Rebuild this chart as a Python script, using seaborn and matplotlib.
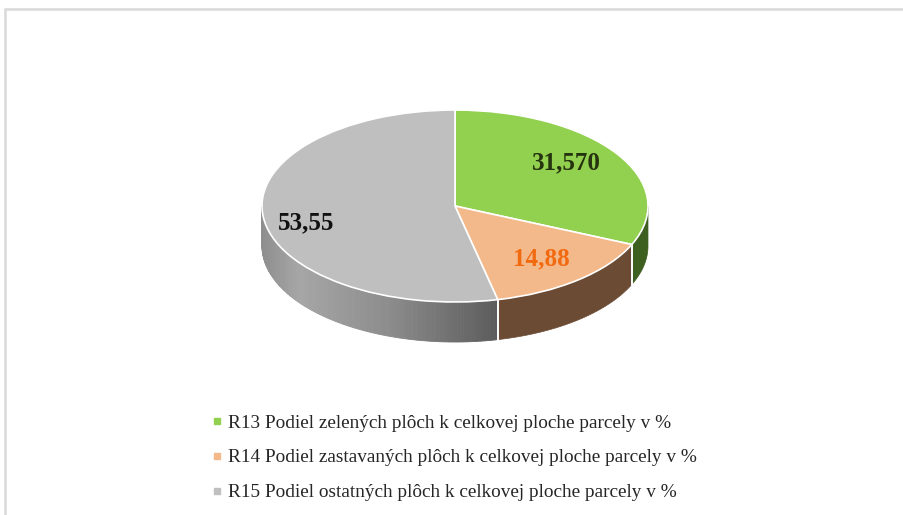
import numpy as np
import matplotlib
matplotlib.use("Agg")
import matplotlib.pyplot as plt
import seaborn as sns
from matplotlib.lines import Line2D
from matplotlib.patches import Rectangle

# ---- data ----
categories = [
    "R13 Podiel zelených plôch k celkovej ploche parcely v %",
    "R14 Podiel zastavaných plôch k celkovej ploche parcely v %",
    "R15 Podiel ostatných plôch k celkovej ploche parcely v %",
]
values = [31.57, 14.88, 53.55]
value_labels = ["31,570", "14,88", "53,55"]

# ---- style ----
top_colors = ["#92d050", "#f4b98a", "#bfbfbf"]
side_colors = ["#3d5f1f", "#6b4b34", None]  # gray side uses gradient
label_colors = ["#26330f", "#f26a10", "#111111"]
label_r = [0.73, 0.71, 0.79]
label_da = [4.7, -0.7, 6.6]
legend_colors = ["#92d050", "#f4b98a", "#bfbfbf"]

sns.set_theme(style="white")
plt.rcParams["font.family"] = ["Liberation Serif", "DejaVu Serif"]

W, H = 904, 515
fig = plt.figure(figsize=(W / 100, H / 100), dpi=100)
ax = fig.add_axes([0, 0, 1, 1])

cx, cy, rx, ry, depth_px = 455, 206, 193, 96, 40
d = depth_px / ry

wedges, _ = ax.pie(values, colors=top_colors, startangle=90, counterclock=False,
                   radius=1.0, center=(0, 0),
                   wedgeprops=dict(edgecolor="white", linewidth=1.2))
for w in wedges:
    w.set_zorder(3)

ax.set_aspect("auto")
ax.set_xlim(-cx / rx, (W - cx) / rx)
ax.set_ylim((cy - H) / ry, cy / ry)
ax.axis("off")

# gray gradient stops (by x in data units)
g_x = [-1.0, -0.803, -0.337, 0.078, 0.218, 1.0]
g_v = [0x8e, 0xa6, 0x8c, 0x68, 0x5c, 0x5c]


def wall(t1, t2, color=None, gradient=False):
    a1, a2 = max(t1, 180), min(t2, 360)
    if a2 <= a1:
        return
    if not gradient:
        t = np.radians(np.linspace(a1, a2, 100))
        xs = np.concatenate([np.cos(t), np.cos(t[::-1])])
        ys = np.concatenate([np.sin(t), np.sin(t[::-1]) - d])
        ax.fill(xs, ys, color=color, lw=0.5, ec=color, zorder=1)
    else:
        edges = np.linspace(a1, a2, 120)
        for e1, e2 in zip(edges[:-1], edges[1:]):
            t = np.radians(np.linspace(e1, e2, 4))
            xm = np.cos(np.radians((e1 + e2) / 2))
            v = np.interp(xm, g_x, g_v) / 255
            c = (v, v, v)
            xs = np.concatenate([np.cos(t), np.cos(t[::-1])])
            ys = np.concatenate([np.sin(t), np.sin(t[::-1]) - d])
            ax.fill(xs, ys, color=c, lw=0.6, ec=c, zorder=1)


for i, w in enumerate(wedges):
    t1, t2 = w.theta1 % 360, w.theta2 % 360
    if t2 <= t1:
        t2 += 360
    for s in (0, -360, 360):
        wall(t1 + s, t2 + s, side_colors[i], gradient=(side_colors[i] is None))

# white separators on the wall
for w in wedges:
    for th in (w.theta1, w.theta2):
        tt = th % 360
        if 180 < tt < 360:
            r = np.radians(tt)
            ax.plot([np.cos(r), np.cos(r)], [np.sin(r), np.sin(r) - d],
                    color="white", lw=1.2, zorder=2)

# value labels
for i, w in enumerate(wedges):
    mid = (w.theta1 + w.theta2) / 2 + label_da[i]
    r = np.radians(mid)
    ax.text(label_r[i] * np.cos(r), label_r[i] * np.sin(r), value_labels[i],
            ha="center", va="center", fontsize=18, fontweight="bold",
            color=label_colors[i], zorder=5)

# legend
handles = [Line2D([], [], marker="s", ls="", color=c, markersize=4.5) for c in legend_colors]
leg = fig.legend(handles, categories, loc="upper left",
                 bbox_to_anchor=(213 / W, 1 - 414 / H), frameon=False,
                 fontsize=13.9, labelspacing=0.9, handlelength=0.45,
                 handletextpad=0.35, borderpad=0, borderaxespad=0)
for t in leg.get_texts():
    t.set_color("#262626")

# outer frame
fig.add_artist(Rectangle((5 / W, -0.2), 1.2, 1 - 9 / H + 0.2, transform=fig.transFigure,
                         fill=False, ec="#d9d9d9", lw=1.8, clip_on=False))

fig.savefig("out.png", dpi=100)
